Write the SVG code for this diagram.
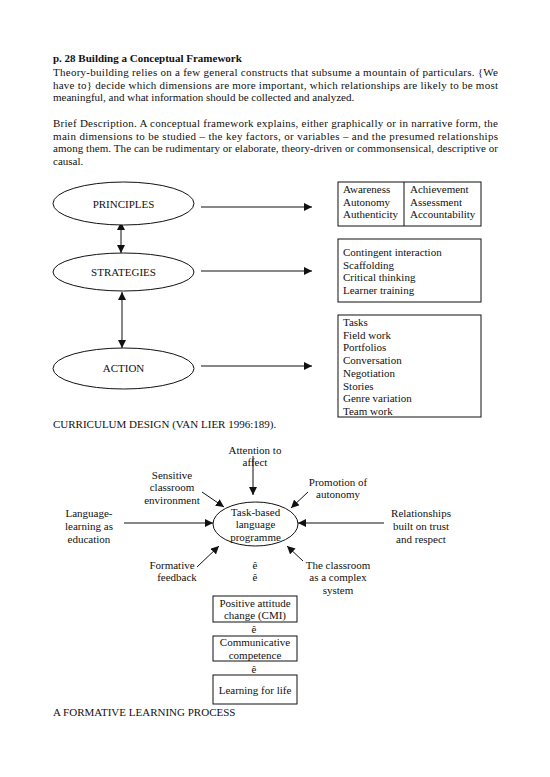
<svg xmlns="http://www.w3.org/2000/svg" width="550" height="777" viewBox="0 0 550 777">
<style>
text{font-family:"Liberation Serif","Times New Roman",serif;font-size:11px;fill:#111}
.b{font-weight:bold}
.c{text-anchor:middle}
.ln{stroke:#111;stroke-width:1;fill:none}
.bx{stroke:#111;stroke-width:1;fill:#fff}
</style>
<defs>
<marker id="ah" viewBox="0 0 10 10" refX="10" refY="5" markerWidth="8" markerHeight="8" markerUnits="userSpaceOnUse" orient="auto-start-reverse">
<path d="M0,0 L10,5 L0,10 z" fill="#111"/>
</marker>
</defs>
<rect width="550" height="777" fill="#fff"/>
<g id="intro">
<text x="53" y="62" class="b">p. 28 Building a Conceptual Framework</text>
<text x="53" y="75.5" textLength="445" lengthAdjust="spacing">Theory-building relies on a few general constructs that subsume a mountain of particulars. {We</text>
<text x="53" y="88.5" textLength="445" lengthAdjust="spacing">have to} decide which dimensions are more important, which relationships are likely to be most</text>
<text x="53" y="101">meaningful, and what information should be collected and analyzed.</text>
<text x="53" y="126.5" textLength="445" lengthAdjust="spacing">Brief Description. A conceptual framework explains, either graphically or in narrative form, the</text>
<text x="53" y="139.5" textLength="445" lengthAdjust="spacing">main dimensions to be studied – the key factors, or variables – and the presumed relationships</text>
<text x="53" y="152" textLength="445" lengthAdjust="spacing">among them. The can be rudimentary or elaborate, theory-driven or commonsensical, descriptive or</text>
<text x="53" y="164.5">causal.</text>
</g>
<g id="connectors">
<line class="ln" x1="201" y1="207" x2="312" y2="207" marker-end="url(#ah)"/>
<line class="ln" x1="201" y1="271" x2="312" y2="271" marker-end="url(#ah)"/>
<line class="ln" x1="201" y1="366" x2="312" y2="366" marker-end="url(#ah)"/>
<line class="ln" x1="121" y1="222" x2="121" y2="253" marker-start="url(#ah)" marker-end="url(#ah)"/>
<line class="ln" x1="122" y1="292" x2="122" y2="348" marker-start="url(#ah)" marker-end="url(#ah)"/>
<line class="ln" x1="253" y1="456" x2="253" y2="495" marker-end="url(#ah)"/>
<line class="ln" x1="202" y1="492" x2="224" y2="507" marker-end="url(#ah)"/>
<line class="ln" x1="308" y1="492" x2="291" y2="508" marker-end="url(#ah)"/>
<line class="ln" x1="124" y1="523" x2="213" y2="523" marker-end="url(#ah)"/>
<line class="ln" x1="384" y1="523" x2="298" y2="523" marker-end="url(#ah)"/>
<line class="ln" x1="197" y1="567" x2="219" y2="546" marker-end="url(#ah)"/>
<line class="ln" x1="303" y1="561" x2="287" y2="546" marker-end="url(#ah)"/>
</g>
<g id="principles">
<ellipse class="bx" cx="123.5" cy="203.5" rx="70.5" ry="21.5"/>
<text x="123.5" y="207.5" class="c">PRINCIPLES</text>
</g>
<g id="strategies">
<ellipse class="bx" cx="123.5" cy="272" rx="70.5" ry="19"/>
<text x="123.5" y="275.5" class="c">STRATEGIES</text>
</g>
<g id="action">
<ellipse class="bx" cx="123.5" cy="368.5" rx="70.5" ry="20.5"/>
<text x="123.5" y="372" class="c">ACTION</text>
</g>
<g id="principles-box">
<rect class="bx" x="338" y="182" width="143" height="44"/>
<line class="ln" x1="404" y1="182" x2="404" y2="226"/>
<text x="343" y="193">Awareness</text>
<text x="343" y="205.5">Autonomy</text>
<text x="343" y="218">Authenticity</text>
<text x="410" y="193">Achievement</text>
<text x="410" y="205.5">Assessment</text>
<text x="410" y="218">Accountability</text>
</g>
<g id="strategies-box">
<rect class="bx" x="338" y="239" width="143" height="63"/>
<text x="343" y="256">Contingent interaction</text>
<text x="343" y="268.5">Scaffolding</text>
<text x="343" y="281">Critical thinking</text>
<text x="343" y="293.5">Learner training</text>
</g>
<g id="action-box">
<rect class="bx" x="338" y="315" width="143" height="102"/>
<text x="343" y="326">Tasks</text>
<text x="343" y="338.7">Field work</text>
<text x="343" y="351.4">Portfolios</text>
<text x="343" y="364.1">Conversation</text>
<text x="343" y="376.8">Negotiation</text>
<text x="343" y="389.5">Stories</text>
<text x="343" y="402.2">Genre variation</text>
<text x="343" y="414.9">Team work</text>
</g>
<g id="caption1">
<text x="53" y="428">CURRICULUM DESIGN (VAN LIER 1996:189).</text>
</g>
<g id="attention">
<text x="255" y="453.5" class="c">Attention to</text>
<text x="255" y="466" class="c">affect</text>
</g>
<g id="sensitive">
<text x="172" y="478.5" class="c">Sensitive</text>
<text x="172" y="491" class="c">classroom</text>
<text x="172" y="504" class="c">environment</text>
</g>
<g id="promotion">
<text x="338" y="485.5" class="c">Promotion of</text>
<text x="338" y="498" class="c">autonomy</text>
</g>
<g id="language">
<text x="89" y="516.5" class="c">Language-</text>
<text x="89" y="529.5" class="c">learning as</text>
<text x="89" y="542.5" class="c">education</text>
</g>
<g id="relationships">
<text x="421" y="516.5" class="c">Relationships</text>
<text x="421" y="529.5" class="c">built on trust</text>
<text x="421" y="542.5" class="c">and respect</text>
</g>
<g id="task-based">
<ellipse class="bx" cx="255.5" cy="524" rx="42.5" ry="22"/>
<text x="255.5" y="515.5" class="c">Task-based</text>
<text x="255.5" y="528" class="c">language</text>
<text x="255.5" y="540.5" class="c">programme</text>
</g>
<g id="formative">
<text x="172" y="568.5" class="c">Formative</text>
<text x="177" y="581" class="c">feedback</text>
</g>
<g id="down-marks">
<text x="255" y="568.5" class="c">ê</text>
<text x="255" y="581" class="c">ê</text>
</g>
<g id="complex">
<text x="338" y="568.5" class="c">The classroom</text>
<text x="338" y="581" class="c">as a complex</text>
<text x="338" y="593.5" class="c">system</text>
</g>
<g id="attitude">
<rect class="bx" x="213" y="596" width="84" height="26"/>
<text x="255" y="606.5" class="c">Positive attitude</text>
<text x="255" y="619" class="c">change (CMI)</text>
</g>
<text x="254" y="632.5" class="c">ê</text>
<g id="competence">
<rect class="bx" x="213" y="636" width="84" height="25"/>
<text x="255" y="645.5" class="c">Communicative</text>
<text x="255" y="658.5" class="c">competence</text>
</g>
<text x="254" y="672.5" class="c">ê</text>
<g id="learning-life">
<rect class="bx" x="213" y="675" width="84" height="29"/>
<text x="255" y="693.5" class="c">Learning for life</text>
</g>
<g id="caption2">
<text x="53" y="716">A FORMATIVE LEARNING PROCESS</text>
</g>
</svg>
